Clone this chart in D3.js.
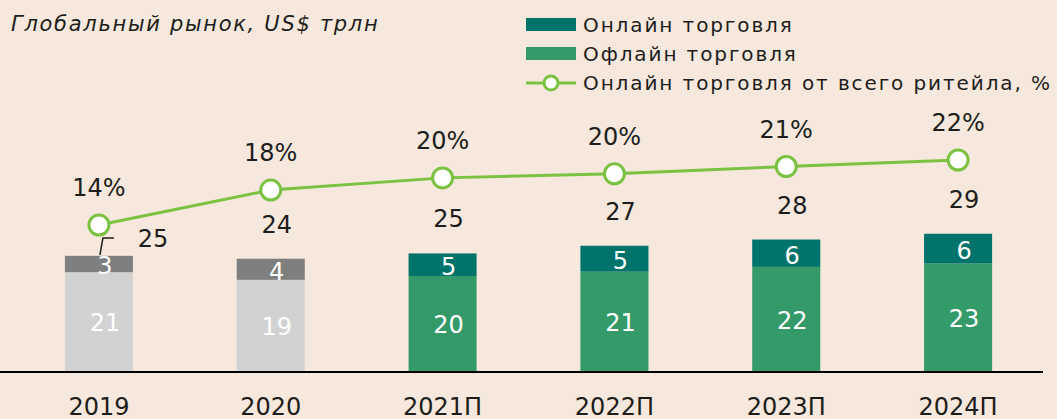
<!DOCTYPE html>
<html>
<head>
<meta charset="utf-8">
<script src="https://cdn.jsdelivr.net/npm/d3@7"></script>
<style>
  body { margin: 0; background: #f6e8dc; }
  svg { display: block; font-family: "DejaVu Sans", sans-serif; }
</style>
</head>
<body>
<svg id="chart" width="1057" height="419"></svg>
<script>
// data
var years = ["2019", "2020", "2021П", "2022П", "2023П", "2024П"];
var isForecast = [false, false, true, true, true, true];
var offline = [20.8, 19.2, 20.0, 20.9, 21.9, 22.6];
var online = [3.4, 4.4, 4.7, 5.4, 5.7, 6.2];
var offlineLabels = ["21", "19", "20", "21", "22", "23"];
var onlineLabels = ["3", "4", "5", "5", "6", "6"];
var totalLabels = ["25", "24", "25", "27", "28", "29"];
var share = [14, 18.3, 19.8, 20.3, 21.2, 22];
var shareLabels = ["14%", "18%", "20%", "20%", "21%", "22%"];

var colors = {
    online: "#00736b",
    offline: "#359a69",
    onlineAct: "#7f7f7f",
    offlineAct: "#d2d2d2",
    line: "#7cc242",
    text: "#1d1d1b"
};

var svg = d3.select("#chart"),
    width = +svg.attr("width"),
    height = +svg.attr("height"),
    base = 372;

svg.append("rect").attr("width", width).attr("height", height).attr("fill", "#f6e8dc");

var x = d3.scaleBand()
    .domain(years)
    .range([13, 1044])
    .paddingInner(0.604)
    .paddingOuter(0.302);

var y = d3.scaleLinear().domain([0, 50]).range([base, 132]);
var yp = d3.scaleLinear().domain([0, 30]).range([338.75, 95]);

// title
svg.append("text")
    .attr("x", 11).attr("y", 31)
    .style("font-size", "21px")
    .style("font-style", "italic")
    .style("letter-spacing", "1.7px")
    .attr("fill", colors.text)
    .text("Глобальный рынок, US$ трлн");

// bars
var bars = svg.append("g").selectAll("g")
    .data(years)
    .enter().append("g");

bars.append("rect")
    .attr("x", function(d) { return x(d); })
    .attr("width", x.bandwidth())
    .attr("y", function(d, i) { return y(offline[i]); })
    .attr("height", function(d, i) { return base - y(offline[i]); })
    .attr("fill", function(d, i) { return isForecast[i] ? colors.offline : colors.offlineAct; });

bars.append("rect")
    .attr("x", function(d) { return x(d); })
    .attr("width", x.bandwidth())
    .attr("y", function(d, i) { return y(offline[i] + online[i]); })
    .attr("height", function(d, i) { return y(offline[i]) - y(offline[i] + online[i]); })
    .attr("fill", function(d, i) { return isForecast[i] ? colors.online : colors.onlineAct; });

var lblOff = 6;
bars.append("text")
    .attr("x", function(d) { return x(d) + x.bandwidth() / 2 + lblOff; })
    .attr("y", function(d, i) { return (base + y(offline[i])) / 2 + 1; })
    .attr("dy", "0.35em")
    .attr("text-anchor", "middle")
    .style("font-size", "24px")
    .attr("fill", "#fff")
    .text(function(d, i) { return offlineLabels[i]; });

bars.append("text")
    .attr("x", function(d) { return x(d) + x.bandwidth() / 2 + lblOff; })
    .attr("y", function(d, i) { return (y(offline[i]) + y(offline[i] + online[i])) / 2 + 2; })
    .attr("dy", "0.35em")
    .attr("text-anchor", "middle")
    .style("font-size", "24px")
    .attr("fill", "#fff")
    .text(function(d, i) { return onlineLabels[i]; });

// totals (first one moved aside because of the marker)
bars.append("text")
    .attr("x", function(d, i) { return x(d) + x.bandwidth() / 2 + (i == 0 ? 54 : lblOff); })
    .attr("y", function(d, i) { return i == 0 ? 247 : y(offline[i] + online[i]) - 26; })
    .attr("text-anchor", "middle")
    .style("font-size", "24px")
    .attr("fill", colors.text)
    .text(function(d, i) { return totalLabels[i]; });

var c0 = x(years[0]) + x.bandwidth() / 2;
svg.append("path")
    .attr("d", "M" + (c0 + 1) + "," + (y(offline[0] + online[0]) - 1) + "L" + (c0 + 4) + "," + 238 + "L" + (c0 + 15) + "," + 238)
    .attr("fill", "none")
    .attr("stroke", colors.text)
    .attr("stroke-width", 1.5);

// axis line
svg.append("line")
    .attr("x1", 0).attr("x2", 1043)
    .attr("y1", base).attr("y2", base)
    .attr("stroke", "#000")
    .attr("stroke-width", 2);

svg.append("g").selectAll("text")
    .data(years)
    .enter().append("text")
    .attr("x", function(d) { return x(d) + x.bandwidth() / 2; })
    .attr("y", 415)
    .attr("text-anchor", "middle")
    .style("font-size", "24px")
    .attr("fill", colors.text)
    .text(function(d) { return d; });

// share line
var cx = function(d, i) { return x(years[i]) + x.bandwidth() / 2; };
var line = d3.line()
    .x(function(d, i) { return cx(d, i); })
    .y(function(d) { return yp(d); });

svg.append("path")
    .datum(share)
    .attr("d", line)
    .attr("fill", "none")
    .attr("stroke", colors.line)
    .attr("stroke-width", 3);

svg.append("g").selectAll("circle")
    .data(share)
    .enter().append("circle")
    .attr("cx", cx)
    .attr("cy", function(d) { return yp(d); })
    .attr("r", 10)
    .attr("fill", "#fff")
    .attr("stroke", colors.line)
    .attr("stroke-width", 3);

svg.append("g").selectAll("text")
    .data(share)
    .enter().append("text")
    .attr("x", cx)
    .attr("y", function(d) { return yp(d) - 29; })
    .attr("text-anchor", "middle")
    .style("font-size", "24px")
    .attr("fill", colors.text)
    .text(function(d, i) { return shareLabels[i]; });

// legend
var legend = svg.append("g").style("letter-spacing", "1.9px");
var items = [
    {label: "Онлайн торговля", color: colors.online},
    {label: "Офлайн торговля", color: colors.offline}
];
for (var i = 0; i < items.length; i++) {
    legend.append("rect")
        .attr("x", 526).attr("y", 18 + i * 29)
        .attr("width", 50).attr("height", 13)
        .attr("fill", items[i].color);
    legend.append("text")
        .attr("x", 583).attr("y", 32 + i * 29)
        .style("font-size", "20px")
        .attr("fill", colors.text)
        .text(items[i].label);
}
legend.append("line")
    .attr("x1", 526).attr("x2", 576)
    .attr("y1", 83).attr("y2", 83)
    .attr("stroke", colors.line).attr("stroke-width", 3);
legend.append("circle")
    .attr("cx", 551).attr("cy", 83).attr("r", 7)
    .attr("fill", "#fff")
    .attr("stroke", colors.line).attr("stroke-width", 3);
legend.append("text")
    .attr("x", 583).attr("y", 90)
    .style("font-size", "20px")
    .attr("fill", colors.text)
    .text("Онлайн торговля от всего ритейла, %");
</script>
</body>
</html>
